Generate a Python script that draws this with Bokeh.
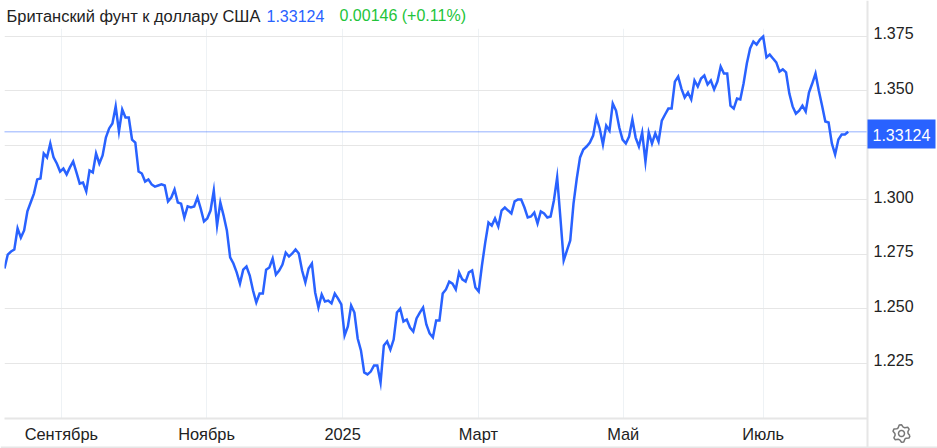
import numpy as np
from bokeh.plotting import figure
from bokeh.models import FixedTicker, Span, Label, BoxAnnotation, Range1d, Grid, LinearAxis
from bokeh.embed import file_html
from bokeh.resources import INLINE

title_name = "Британский фунт к доллару США"
last_price = "1.33124"
change_text = "0.00146 (+0.11%)"
y_ticks = [1.225, 1.25, 1.275, 1.30, 1.325, 1.35, 1.375]
y_tick_labels = ["1.225", "1.250", "1.275", "1.300", "1.325", "1.350", "1.375"]
x_tick_labels = ["Сентябрь", "Ноябрь", "2025", "Март", "Май", "Июль"]
x_tick_sessions = [17.4, 61.8, 103.4, 144.9, 189.2, 232.0]

rate = [
 1.2685,1.2749,1.2763,1.2772,1.2869,1.2827,1.2860,1.2947,1.2988,1.3029,
 1.3094,1.3098,1.3213,1.3195,1.3259,1.3195,1.3167,1.3130,1.3144,1.3117,
 1.3149,1.3176,1.3126,1.3075,1.3080,1.3039,1.3135,1.3126,1.3213,1.3167,
 1.3204,1.3286,1.3328,1.3351,1.3429,1.3314,1.3415,1.3378,1.3378,1.3277,
 1.3263,1.3130,1.3121,1.3084,1.3094,1.3071,1.3061,1.3066,1.3071,1.3066,
 1.2993,1.3011,1.3048,1.2988,1.2983,1.2919,1.2970,1.2965,1.2970,1.3011,
 1.2960,1.2901,1.2915,1.2951,1.3043,1.2882,1.2988,1.2928,1.2860,1.2736,
 1.2708,1.2667,1.2616,1.2680,1.2694,1.2653,1.2584,1.2529,1.2570,1.2570,
 1.2680,1.2690,1.2731,1.2657,1.2676,1.2703,1.2758,1.2740,1.2754,1.2772,
 1.2754,1.2676,1.2621,1.2685,1.2708,1.2575,1.2506,1.2566,1.2534,1.2538,
 1.2525,1.2570,1.2547,1.2520,1.2378,1.2419,1.2515,1.2483,1.2364,1.2309,
 1.2208,1.2199,1.2212,1.2240,1.2240,1.2162,1.2332,1.2350,1.2313,1.2359,
 1.2483,1.2501,1.2442,1.2451,1.2414,1.2396,1.2456,1.2483,1.2506,1.2428,
 1.2387,1.2369,1.2446,1.2446,1.2570,1.2589,1.2625,1.2616,1.2589,1.2667,
 1.2635,1.2625,1.2667,1.2676,1.2598,1.2580,1.2699,1.2804,1.2896,1.2882,
 1.2915,1.2878,1.2951,1.2965,1.2951,1.2938,1.2993,1.3002,1.3002,1.2965,
 1.2919,1.2924,1.2942,1.2892,1.2947,1.2938,1.2919,1.2924,1.2997,1.3103,
 1.2915,1.2722,1.2768,1.2814,1.2983,1.3098,1.3195,1.3231,1.3245,1.3263,
 1.3295,1.3378,1.3328,1.3254,1.3341,1.3318,1.3442,1.3410,1.3332,1.3277,
 1.3259,1.3291,1.3369,1.3286,1.3245,1.3309,1.3176,1.3309,1.3259,1.3305,
 1.3268,1.3364,1.3392,1.3419,1.3419,1.3543,1.3566,1.3511,1.3470,1.3493,
 1.3461,1.3548,1.3520,1.3557,1.3571,1.3530,1.3548,1.3507,1.3543,1.3612,
 1.3580,1.3580,1.3433,1.3419,1.3465,1.3461,1.3534,1.3626,1.3695,1.3727,
 1.3713,1.3736,1.3750,1.3654,1.3667,1.3649,1.3631,1.3589,1.3599,1.3585,
 1.3488,1.3429,1.3396,1.3410,1.3433,1.3406,1.3493,1.3534,1.3580,1.3502,
 1.3433,1.3360,1.3355,1.3259,1.3208,1.3277,1.3300,1.3300,1.33124,
]
sessions = list(range(len(rate)))

BLUE = "#2962ff"
GREEN = "#22c43a"
FONT = "Liberation Sans"
INK = "#222222"
EDGE = "#e6e6e6"
Y0, Y1 = 1.19966, 1.37867
LABEL_LIFT = 0.00138  # tick labels sit a little above their grid lines

p = figure(width=937, height=448, output_backend="svg", toolbar_location=None,
           x_range=Range1d(0, 263.9), y_range=Range1d(Y0, Y1),
           min_border_left=4, min_border_right=70, min_border_top=28, min_border_bottom=30,
           x_axis_location="below", y_axis_location=None, outline_line_color=None)
p.extra_y_ranges = {"ticks": Range1d(Y0 - LABEL_LIFT, Y1 - LABEL_LIFT)}
yax = LinearAxis(y_range_name="ticks", ticker=FixedTicker(ticks=y_ticks),
                 major_label_overrides=dict(zip(y_ticks, y_tick_labels)))
p.add_layout(yax, "right")

p.xaxis.ticker = FixedTicker(ticks=x_tick_sessions)
p.xaxis.major_label_overrides = dict(zip(x_tick_sessions, x_tick_labels))
for ax, size in ((p.xaxis[0], "16.4px"), (yax, "16px")):
    ax.major_tick_line_color = None
    ax.minor_tick_line_color = None
    ax.major_label_text_font = FONT
    ax.major_label_text_font_size = size
    ax.major_label_text_color = INK
    ax.major_label_standoff = 0
p.xaxis.axis_line_color = EDGE
p.xaxis.axis_line_width = 2
yax.axis_line_color = None

p.xgrid.ticker = FixedTicker(ticks=x_tick_sessions)
p.xgrid.grid_line_color = "#eef2f5"
p.ygrid.visible = False
p.add_layout(Grid(dimension=1, ticker=FixedTicker(ticks=y_ticks), grid_line_color=EDGE))

p.line(sessions, rate, line_color=BLUE, line_width=2.5, line_join="miter")
p.add_layout(Span(location=float(last_price), dimension="width", line_color=BLUE,
                  line_alpha=1, line_width=1, line_dash="1 1"))

# Annotations are clipped to a figure's frame, so the header, the price tag and the
# edges sit on a transparent figure whose frame is the whole page, laid over the chart.
o = figure(width=937, height=448, output_backend="svg", toolbar_location=None,
           x_range=Range1d(0, 937), y_range=Range1d(448, 0), x_axis_type=None, y_axis_type=None,
           min_border=0, outline_line_color=None, background_fill_alpha=0, border_fill_alpha=0,
           margin=(-448, 0, 0, 0))
o.grid.visible = False


def box(l, r, t, b, color):
    return BoxAnnotation(left=l, right=r, top=t, bottom=b, left_units="canvas", right_units="canvas",
                         top_units="canvas", bottom_units="canvas", fill_color=color, fill_alpha=1,
                         line_color=None)


def label(x, y, text, color, size="16px"):
    return Label(x=x, y=y, x_units="canvas", y_units="canvas", text=text, text_color=color,
                 text_font=FONT, text_font_size=size, text_baseline="middle", text_align="left")


o.add_layout(box(866, 868, 0, 448, EDGE))
o.add_layout(box(0, 937, 446, 448, EDGE))
o.add_layout(box(867, 935, 119, 148, BLUE))
o.add_layout(label(872, 134, last_price, "#ffffff"))
o.add_layout(label(6, 15, title_name, INK, "16.45px"))
o.add_layout(label(266, 15, last_price, BLUE))
o.add_layout(label(339, 15, change_text, GREEN))

# settings gear
n = 6
ang = np.linspace(0, 2 * np.pi, n * 4 + 1) + np.pi / 12
rad = np.append(np.tile([8.8, 8.8, 6.6, 6.6], n), 8.8)
o.line(901 + rad * np.cos(ang), 433 + rad * np.sin(ang), line_color="#777777", line_width=1.5)
th = np.linspace(0, 2 * np.pi, 25)
o.line(901 + 3 * np.cos(th), 433 + 3 * np.sin(th), line_color="#777777", line_width=1.5)

open("out.html", "w").write(file_html((p, o), INLINE))
